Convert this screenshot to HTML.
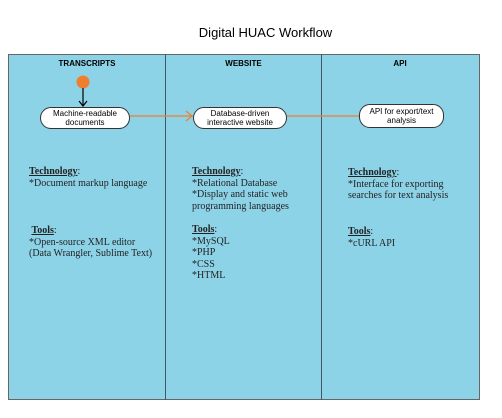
<!DOCTYPE html>
<html><head><style>
body{margin:0;width:502px;height:418px;background:#fff;position:relative;font-family:"Liberation Sans",sans-serif;overflow:hidden}
.a{position:absolute}
.h{font-size:8px;font-weight:bold;text-align:center}
.n{position:absolute;background:#fff;border:1px solid #333;border-radius:11px;font-size:8px;text-align:center;line-height:9.5px;display:flex;align-items:center;justify-content:center;box-sizing:border-box}
.t{position:absolute;font-family:"Liberation Serif",serif;font-size:10px;line-height:11.6px;color:#222}
.t b{text-decoration:underline}
</style></head><body>
<div class="a" style="left:0;width:531px;top:25px;text-align:center;font-size:13px">Digital HUAC Workflow</div>
<div class="a" style="left:8px;top:54px;width:470px;height:344px;background:#8dd3e8;border:1px solid #666"></div>
<div class="a" style="left:165px;top:54px;width:1px;height:346px;background:#456"></div>
<div class="a" style="left:321px;top:54px;width:1px;height:346px;background:#456"></div>
<div class="a h" style="left:9px;width:156px;top:59px">TRANSCRIPTS</div>
<div class="a h" style="left:166px;width:155px;top:59px">WEBSITE</div>
<div class="a h" style="left:322px;width:156px;top:59px">API</div>
<svg class="a" style="left:0;top:0" width="502" height="418">
<circle cx="83" cy="82" r="6.5" fill="#f07f2d"/>
<line x1="83" y1="88" x2="83" y2="106" stroke="#000" stroke-width="1.2"/>
<polyline points="79,101 83,106 87,101" fill="none" stroke="#000" stroke-width="1.2"/>
<line x1="130" y1="116" x2="193" y2="116" stroke="#f07f2d" stroke-width="1.2"/>
<polyline points="186,111 192,116 186,121" fill="none" stroke="#f07f2d" stroke-width="1.2"/>
<line x1="287" y1="116" x2="359" y2="116" stroke="#f07f2d" stroke-width="1.2"/>
</svg>
<div class="n" style="left:40px;top:107px;width:90px;height:22px">Machine-readable<br>documents</div>
<div class="n" style="left:193px;top:107px;width:94px;height:22px">Database-driven<br>interactive website</div>
<div class="n" style="left:359px;top:104px;width:85px;height:24px">API for export/text<br>analysis</div>
<div class="t" style="left:29px;top:166px"><b>Technology</b>:<br>*Document markup language</div>
<div class="t" style="left:29px;top:225px">&nbsp;<b>Tools</b>:<br>*Open-source XML editor<br>(Data Wrangler, Sublime Text)</div>
<div class="t" style="left:192px;top:166px"><b>Technology</b>:<br>*Relational Database<br>*Display and static web<br>programming languages</div>
<div class="t" style="left:192px;top:224px"><b>Tools</b>:<br>*MySQL<br>*PHP<br>*CSS<br>*HTML</div>
<div class="t" style="left:348px;top:167px"><b>Technology</b>:<br>*Interface for exporting<br>searches for text analysis</div>
<div class="t" style="left:348px;top:226px"><b>Tools</b>:<br>*cURL API</div>
</body></html>
